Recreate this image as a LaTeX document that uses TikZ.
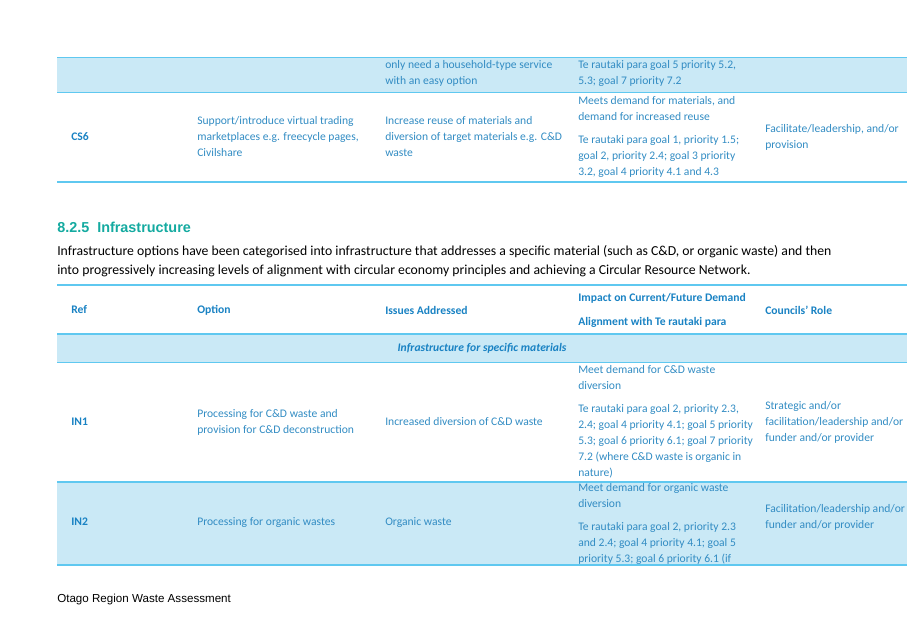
\documentclass[tikz,border=0pt]{standalone}
\usepackage{fontspec}
\setmainfont{Carlito}
\newfontfamily\arialfont{Liberation Sans}
\usepackage{xcolor}
\definecolor{tabtext}{RGB}{50,140,195}
\definecolor{tabhead}{RGB}{25,130,195}
\definecolor{tabrule}{RGB}{95,200,240}
\definecolor{tabshade}{RGB}{202,233,246}
\definecolor{secteal}{RGB}{20,170,160}
\tikzset{
  cell/.style={anchor=west, align=left, inner sep=0pt, text=tabtext,
    font=\fontsize{8.7}{12}\selectfont},
  headcell/.style={cell, text=tabhead, font=\fontsize{8.7}{12}\selectfont\bfseries},
  rule/.style={draw=tabrule, line width=1.2pt},
  thinrule/.style={draw=tabrule, line width=0.6pt},
  shade/.style={fill=tabshade, draw=none}
}
\begin{document}
\begin{tikzpicture}[x=0.75pt,y=-0.75pt]
    \useasboundingbox (0,0) rectangle (907,626);
    % top table
    \fill[tabshade] (57,57) rectangle (907,92);
    \draw[thinrule] (57,57) -- (907,57);
    \draw[thinrule] (57,92) -- (907,92);
    \draw[rule] (57,182) -- (907,182);
    \node[cell] (cs5issue) at (385,73) {only need a household-type service\\with an easy option};
    \node[cell] (cs5impact) at (578,73) {Te rautaki para goal 5 priority 5.2,\\5.3; goal 7 priority 7.2};
    \node[headcell] (cs6ref) at (71,137) {CS6};
    \node[cell] (cs6opt) at (197,137) {Support/introduce virtual trading\\marketplaces e.g. freecycle pages,\\Civilshare};
    \node[cell] (cs6issue) at (385,137) {Increase reuse of materials and\\diversion of target materials e.g. C\&D\\waste};
    \node[cell] (cs6impact) at (578,137) {Meets demand for materials, and\\demand for increased reuse\\[5pt]Te rautaki para goal 1, priority 1.5;\\goal 2, priority 2.4; goal 3 priority\\3.2, goal 4 priority 4.1 and 4.3};
    \node[cell] (cs6role) at (765,137) {Facilitate/leadership, and/or\\provision};
    % section heading and paragraph
    \node[anchor=west, inner sep=0pt, text=secteal, font=\arialfont\fontsize{10.8}{14}\selectfont\bfseries] (sec) at (57,227) {8.2.5\ \ Infrastructure};
    \node[anchor=north west, align=left, inner sep=0pt, font=\fontsize{10.3}{14.25}\selectfont] (para) at (57,245)
      {Infrastructure options have been categorised into infrastructure that addresses a specific material (such as C\&D, or organic waste) and then\\into progressively increasing levels of alignment with circular economy principles and achieving a Circular Resource Network.};
    % infrastructure table
    \fill[tabshade] (57,334) rectangle (907,362);
    \fill[tabshade] (57,482) rectangle (907,565);
    \draw[rule] (57,285) -- (907,285);
    \draw[rule] (57,334) -- (907,334);
    \draw[thinrule] (57,362) -- (907,362);
    \draw[rule] (57,482) -- (907,482);
    \draw[rule] (57,565) -- (907,565);
    \node[headcell] (hdref) at (71,310) {Ref};
    \node[headcell] (hdopt) at (197,310) {Option};
    \node[headcell] (hdissue) at (385,310) {Issues Addressed};
    \node[headcell] (hdimpact) at (578,310) {Impact on Current/Future Demand\\[6pt]Alignment with Te rautaki para};
    \node[headcell] (hdrole) at (765,310) {Councils’ Role};
    \node[cell, anchor=center, font=\fontsize{8.7}{12}\selectfont\bfseries\itshape, text=tabhead] (grp) at (482,348) {Infrastructure for specific materials};
    \node[headcell] (in1ref) at (71,422) {IN1};
    \node[cell] (in1opt) at (197,422) {Processing for C\&D waste and\\provision for C\&D deconstruction};
    \node[cell] (in1issue) at (385,422) {Increased diversion of C\&D waste};
    \node[cell] (in1impact) at (578,422) {Meet demand for C\&D waste\\diversion\\[5pt]Te rautaki para goal 2, priority 2.3,\\2.4; goal 4 priority 4.1; goal 5 priority\\5.3; goal 6 priority 6.1; goal 7 priority\\7.2 (where C\&D waste is organic in\\nature)};
    \node[cell] (in1role) at (765,422) {Strategic and/or\\facilitation/leadership and/or\\funder and/or provider};
    \node[headcell] (in2ref) at (71,522) {IN2};
    \node[cell] (in2opt) at (197,522) {Processing for organic wastes};
    \node[cell] (in2issue) at (385,522) {Organic waste};
    \node[cell] (in2impact) at (578,524) {Meet demand for organic waste\\diversion\\[5pt]Te rautaki para goal 2, priority 2.3\\and 2.4; goal 4 priority 4.1; goal 5\\priority 5.3; goal 6 priority 6.1 (if};
    \node[cell] (in2role) at (765,517) {Facilitation/leadership and/or\\funder and/or provider};
    % footer
    \node[anchor=west, inner sep=0pt, font=\arialfont\fontsize{8.7}{11}\selectfont] (foot) at (57,599) {Otago Region Waste Assessment};
\end{tikzpicture}
\end{document}
